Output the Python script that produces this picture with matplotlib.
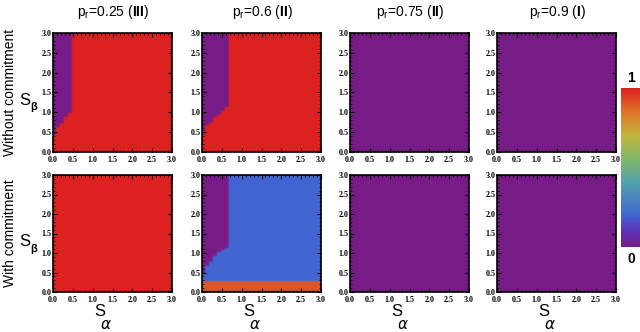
import numpy as np
import matplotlib
matplotlib.use("Agg")
from matplotlib import pyplot as plt
from matplotlib.colors import LinearSegmentedColormap

# fine grid of S_alpha / S_beta values
s_vals = np.round(np.arange(0, 3.001, 0.05), 3)

titles = [r"p$_\mathrm{r}$=0.25 ($\mathbf{III}$)", r"p$_\mathrm{r}$=0.6 ($\mathbf{II}$)",
          r"p$_\mathrm{r}$=0.75 ($\mathbf{II}$)", r"p$_\mathrm{r}$=0.9 ($\mathbf{I}$)"]
row_labels = ["Without commitment", "With commitment"]

# purple region: for S_alpha below each break, purple where S_beta >= edge
top_p025_breaks = [0.1, 0.2, 0.3, 0.4, 0.5]
top_p025_edges = [0.45, 0.65, 0.75, 0.9, 1.0]
top_p06_breaks = [0.1, 0.2, 0.3, 0.4, 0.5, 0.6, 0.7]
top_p06_edges = [0.45, 0.7, 0.75, 0.9, 0.95, 1.05, 1.15]
bot_p06_breaks = [0.1, 0.2, 0.3, 0.4, 0.5, 0.6, 0.7]
bot_p06_edges = [0.5, 0.7, 0.8, 0.95, 1.05, 1.1, 1.15]

# levels of the plain regions
val_red = 1.0
val_purple = 0.0
val_blue = 0.2
val_orange = 0.9
orange_band_top = 0.3  # S_beta below this is orange (bottom p=0.6 panel)


def build(breaks, edges, fill, low_fill=None):
    z = np.full((len(s_vals), len(s_vals)), fill)
    if low_fill is not None:
        z[s_vals < orange_band_top, :] = low_fill
    for j, a in enumerate(s_vals):
        for b, e in zip(breaks, edges):
            if a < b - 1e-9:
                z[s_vals >= e - 1e-9, j] = val_purple
                break
    return z


panels = [
    [build(top_p025_breaks, top_p025_edges, val_red),
     build(top_p06_breaks, top_p06_edges, val_red),
     build([], [], val_purple), build([], [], val_purple)],
    [build([], [], val_red),
     build(bot_p06_breaks, bot_p06_edges, val_blue, val_orange),
     build([], [], val_purple), build([], [], val_purple)],
]

# Mathematica-like rainbow
cmap = LinearSegmentedColormap.from_list("rainbow_m", [
    (0.0, (0.47, 0.11, 0.53)),
    (0.1, (0.36, 0.20, 0.72)),
    (0.2, (0.26, 0.40, 0.82)),
    (0.4, (0.32, 0.63, 0.68)),
    (0.55, (0.50, 0.72, 0.42)),
    (0.7, (0.76, 0.72, 0.24)),
    (0.85, (0.88, 0.45, 0.16)),
    (1.0, (0.87, 0.13, 0.13)),
])

W, H = 640, 332
fig = plt.figure(figsize=(6.4, 3.32), dpi=100)
plt.rcParams["font.family"] = ["Liberation Sans", "DejaVu Sans"]
plt.rcParams["mathtext.fontset"] = "custom"
plt.rcParams["mathtext.rm"] = "Liberation Sans"
plt.rcParams["mathtext.bf"] = "Liberation Sans:bold"

lefts = [53, 202, 350, 497]
rows_px = [(33, 152), (175, 292)]
tick_font = {"family": "Liberation Serif", "weight": "bold", "size": 5.8}

for r, (ytop, ybot) in enumerate(rows_px):
    for c, lx in enumerate(lefts):
        ax = fig.add_axes([lx / W, 1 - ybot / H, 119 / W, (ybot - ytop) / H])
        ax.imshow(panels[r][c], origin="lower", cmap=cmap, vmin=0, vmax=1,
                  extent=(-0.025, 3.025, -0.025, 3.025), interpolation="bilinear",
                  interpolation_stage="rgba", aspect="auto")
        ax.set_xlim(0, 3)
        ax.set_ylim(0, 3)
        ticks = np.arange(0, 3.01, 0.5)
        ax.set_xticks(ticks)
        ax.set_yticks(ticks)
        ax.set_xticklabels([f"{t:.1f}" for t in ticks], fontdict=tick_font)
        ax.set_yticklabels([f"{t:.1f}" for t in ticks], fontdict=tick_font)
        ax.set_xticks(np.arange(0, 3.01, 0.1), minor=True)
        ax.set_yticks(np.arange(0, 3.01, 0.1), minor=True)
        ax.tick_params(which="both", direction="in", top=True, right=True)
        ax.tick_params(axis="x", pad=3)
        ax.tick_params(axis="y", pad=1)
        ax.tick_params(which="major", length=3, width=0.8)
        ax.tick_params(which="minor", length=1.5, width=0.5)
        for sp in ax.spines.values():
            sp.set_linewidth(1.2)
        cx = lx + 60
        if r == 0:
            fig.text(cx / W, 1 - 12 / H, titles[c], ha="center", va="center",
                     fontsize=10)
        else:
            fig.text((cx - 13) / W, 1 - 312 / H, "S", ha="center", va="center",
                     fontsize=12)
            fig.text((cx - 7) / W, 1 - 325 / H, r"$\alpha$", ha="center",
                     va="center", fontsize=11)
    ymid = (ytop + ybot) / 2
    fig.text(10 / W, 1 - ymid / H, row_labels[r], rotation=90, ha="center",
             va="center", fontsize=10)
    fig.text(25 / W, 1 - (ymid + 8) / H, "S", ha="center", va="center",
             fontsize=12)
    fig.text(34 / W, 1 - (ymid + 15) / H, r"$\mathbf{\beta}$", ha="center",
             va="center", fontsize=8)

# colour bar
cax = fig.add_axes([621 / W, 1 - 247 / H, 19 / W, 159 / H])
grad = np.linspace(0, 1, 256).reshape(-1, 1)
cax.imshow(grad, origin="lower", cmap=cmap, aspect="auto", extent=(0, 1, 0, 1))
cax.set_axis_off()
fig.text(631 / W, 1 - 78 / H, "1", ha="center", va="center", fontsize=10,
         fontweight="bold")
fig.text(631 / W, 1 - 259 / H, "0", ha="center", va="center", fontsize=10,
         fontweight="bold")

fig.savefig("out.png", dpi=100)
